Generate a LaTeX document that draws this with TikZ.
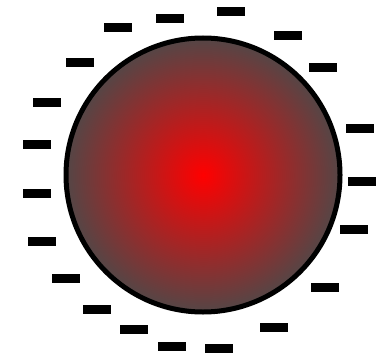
\documentclass[tikz,border=0pt]{standalone}
\definecolor{coregray}{RGB}{84,70,70}
\pgfdeclareradialshading{glow}{\pgfpoint{0bp}{0bp}}{color(0bp)=(red); color(25bp)=(coregray); color(50bp)=(coregray)}
\tikzset{charge/.style={rectangle, fill=black, minimum width=28pt, minimum height=9pt, inner sep=0pt}}
\begin{document}
\begin{tikzpicture}[x=1pt, y=-1pt, line join=round]
			\useasboundingbox (0,0) rectangle (382,353);
			\node[circle, draw, line width=5pt, minimum size=274pt, shading=glow] (ball) at (203,175) {};
			% negative charges round the ball
			\foreach \x/\y [count=\i] in {231/12, 170/19, 118/28, 288/36, 80/62, 323/67, 47/102, 360/128, 37/144, 362/181, 37/193, 354/229, 42/241, 66/278, 325/287, 97/309, 134/329, 274/327, 172/346, 219/348}
				\node[charge] (e\i) at (\x,\y) {};
		\end{tikzpicture}
\end{document}
